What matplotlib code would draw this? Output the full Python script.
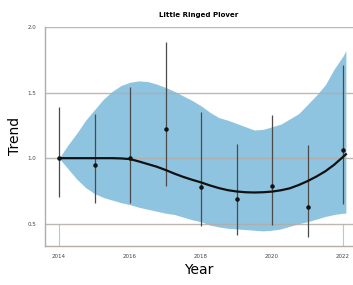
import numpy as np
import matplotlib
matplotlib.use('Agg')
from matplotlib import pyplot as plt

# yearly index with confidence intervals
years = [2014, 2015, 2016, 2017, 2018, 2019, 2020, 2021, 2022]
index = [1.00, 0.95, 1.00, 1.22, 0.78, 0.69, 0.79, 0.63, 1.06]
ci_low = [0.70, 0.66, 0.66, 0.79, 0.48, 0.41, 0.49, 0.40, 0.65]
ci_high = [1.39, 1.34, 1.54, 1.89, 1.35, 1.11, 1.33, 1.10, 1.71]

# smoothed trend and its band, read at quarter-year steps
trend_x = [2014, 2014.25, 2014.5, 2014.75, 2015, 2015.25, 2015.5, 2015.75,
           2016, 2016.25, 2016.5, 2016.75, 2017, 2017.25, 2017.5, 2017.75,
           2018, 2018.25, 2018.5, 2018.75, 2019, 2019.25, 2019.5, 2019.75,
           2020, 2020.25, 2020.5, 2020.75, 2021, 2021.25, 2021.5, 2021.75,
           2022, 2022.08]
trend_y = [1.00, 1.00, 1.00, 1.00, 1.00, 1.00, 1.00, 0.998,
           0.993, 0.975, 0.955, 0.935, 0.91, 0.882, 0.857, 0.835,
           0.815, 0.792, 0.772, 0.756, 0.746, 0.740, 0.738, 0.740,
           0.745, 0.755, 0.770, 0.795, 0.825, 0.860, 0.900, 0.950,
           1.010, 1.030]
band_hi = [1.00, 1.10, 1.19, 1.29, 1.37, 1.45, 1.51, 1.555,
           1.58, 1.59, 1.585, 1.565, 1.54, 1.51, 1.475, 1.44,
           1.40, 1.35, 1.31, 1.29, 1.265, 1.24, 1.215, 1.22,
           1.24, 1.26, 1.30, 1.34, 1.41, 1.48, 1.56, 1.68,
           1.78, 1.82]
band_lo = [1.00, 0.92, 0.84, 0.775, 0.73, 0.70, 0.68, 0.66,
           0.645, 0.625, 0.61, 0.595, 0.58, 0.57, 0.55, 0.53,
           0.515, 0.49, 0.475, 0.465, 0.46, 0.455, 0.45, 0.445,
           0.45, 0.46, 0.48, 0.50, 0.515, 0.535, 0.555, 0.57,
           0.58, 0.58]

y_grid = [0.5, 1.0, 1.5, 2.0]
x_ticks = [2014, 2016, 2018, 2020, 2022]
edge_years = [2014, 2022]

fig = plt.figure(figsize=(3.53, 2.85), dpi=100)
ax = fig.add_axes([0.127, 0.137, 0.873, 0.770])

ax.fill_between(trend_x, band_lo, band_hi, color='#8fc4e0', lw=0, zorder=1)
ax.vlines(edge_years, 0.33, 0.5, color='#9fd6c4', lw=0.8, zorder=0)
for g in y_grid:
    ax.axhline(g, color='#b3aca7', lw=1.0, alpha=0.85, zorder=2)

ax.vlines(years, ci_low, ci_high, color='#4a4a4a', lw=0.9, zorder=3)
ax.scatter(years, index, s=5, color='#111111', zorder=4)
ax.plot(trend_x, trend_y, color='#111111', lw=1.6, zorder=5,
        solid_joinstyle='round')

ax.set_xlim(2013.6, 2022.28)
ax.set_ylim(0.33, 2.005)
ax.set_xticks(x_ticks)
ax.set_yticks(y_grid)
ax.set_yticklabels(['0.5', '1.0', '1.5', '2.0'])
ax.tick_params(length=0, labelsize=4, colors='#444444', pad=6)

for side in ['top', 'right']:
    ax.spines[side].set_visible(False)
for side in ['left', 'bottom']:
    ax.spines[side].set_color('#b3aca7')
    ax.spines[side].set_linewidth(1.0)

ax.set_title('Little Ringed Plover', fontsize=5, fontweight='bold', pad=7)
ax.set_xlabel('Year', fontsize=10, labelpad=3)
ax.set_ylabel('Trend', fontsize=10, labelpad=4)

fig.savefig('out.png', dpi=100)
